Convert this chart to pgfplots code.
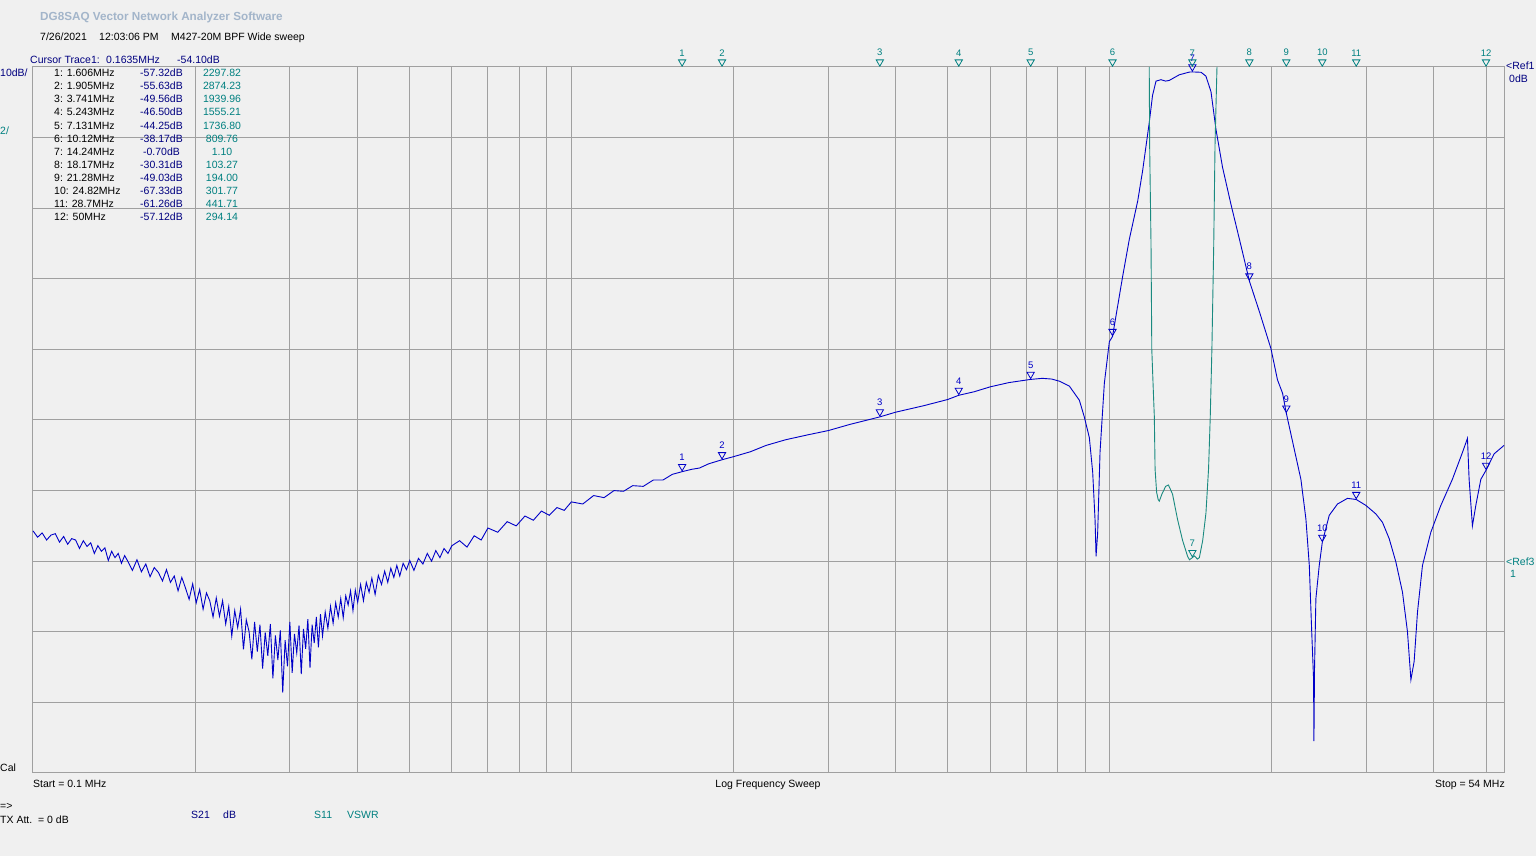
\documentclass[border=0pt]{standalone}
\usepackage{fontspec}
\setmainfont{Liberation Sans}
\usepackage{pgfplots}
\usepackage{pgfplotstable}
\pgfplotsset{compat=1.18}

\definecolor{bg}{HTML}{F0F0F0}
\definecolor{gridc}{HTML}{A0A0A0}
\definecolor{trace}{HTML}{0000C8}
\definecolor{navy}{HTML}{000080}
\definecolor{tealc}{HTML}{008080}
\definecolor{ttrace}{HTML}{1A8A80}
\definecolor{titlec}{HTML}{A3B5CA}

% S21 (dB)
\pgfplotstableread{
f db
0.100 -65.7
0.102 -66.6
0.104 -66.0
0.106 -67.0
0.108 -66.3
0.110 -66.1
0.112 -67.3
0.114 -66.5
0.116 -67.6
0.118 -66.8
0.120 -67.0
0.122 -68.2
0.124 -67.1
0.126 -67.9
0.128 -67.4
0.130 -68.9
0.132 -67.8
0.134 -68.6
0.136 -68.1
0.138 -69.9
0.140 -68.6
0.142 -69.5
0.144 -68.9
0.146 -70.3
0.148 -69.2
0.150 -70.0
0.153 -71.3
0.156 -69.8
0.159 -71.5
0.162 -70.4
0.165 -72.2
0.168 -70.9
0.171 -71.6
0.174 -72.8
0.177 -71.2
0.180 -73.0
0.183 -72.1
0.186 -74.2
0.189 -72.3
0.192 -73.8
0.195 -75.4
0.198 -73.2
0.201 -75.9
0.204 -74.0
0.207 -76.8
0.210 -74.5
0.213 -75.6
0.216 -77.9
0.219 -75.2
0.222 -77.8
0.225 -75.6
0.228 -78.9
0.231 -76.4
0.234 -80.6
0.237 -77.0
0.240 -79.4
0.243 -76.8
0.246 -82.5
0.249 -78.3
0.252 -80.0
0.255 -83.9
0.258 -78.6
0.261 -82.8
0.264 -79.0
0.267 -85.2
0.270 -80.1
0.273 -83.4
0.276 -78.9
0.279 -86.6
0.282 -80.5
0.285 -84.0
0.288 -79.8
0.291 -88.6
0.294 -81.2
0.297 -84.9
0.300 -78.6
0.303 -85.8
0.306 -80.3
0.309 -83.0
0.312 -79.1
0.315 -86.0
0.318 -79.6
0.321 -82.4
0.324 -78.2
0.327 -85.1
0.330 -79.0
0.333 -81.6
0.336 -77.9
0.339 -82.2
0.342 -77.5
0.345 -80.6
0.349 -77.2
0.353 -79.5
0.357 -76.4
0.361 -78.8
0.365 -75.9
0.369 -77.9
0.373 -75.3
0.377 -78.0
0.381 -74.9
0.385 -76.2
0.389 -74.2
0.393 -77.0
0.397 -74.1
0.401 -75.8
0.406 -73.3
0.411 -75.6
0.416 -73.0
0.421 -74.4
0.426 -72.4
0.432 -74.7
0.438 -72.0
0.444 -73.3
0.450 -71.4
0.456 -73.0
0.462 -71.0
0.468 -72.3
0.474 -70.6
0.480 -72.1
0.487 -70.3
0.494 -71.2
0.501 -69.9
0.510 -71.3
0.520 -69.6
0.530 -70.4
0.540 -68.9
0.550 -70.0
0.560 -68.5
0.570 -69.5
0.580 -68.2
0.590 -68.9
0.600 -67.8
0.620 -67.1
0.640 -68.0
0.660 -66.4
0.680 -67.0
0.700 -65.3
0.730 -65.9
0.760 -64.4
0.790 -65.0
0.820 -63.6
0.850 -64.2
0.880 -62.9
0.910 -63.5
0.940 -62.4
0.970 -62.8
1.000 -61.6
1.05 -61.9
1.10 -60.7
1.15 -61.0
1.20 -60.0
1.25 -60.1
1.30 -59.3
1.36 -59.4
1.42 -58.5
1.48 -58.5
1.54 -57.7
1.606 -57.32
1.67 -57.0
1.73 -56.8
1.80 -56.2
1.905 -55.63
2.00 -55.2
2.15 -54.5
2.30 -53.6
2.50 -52.8
2.75 -52.1
3.00 -51.5
3.30 -50.6
3.741 -49.56
4.00 -48.9
4.50 -48.0
5.00 -47.1
5.243 -46.5
5.60 -46.0
6.00 -45.3
6.50 -44.7
7.131 -44.25
7.50 -44.1
7.80 -44.2
8.061 -44.5
8.414 -45.2
8.782 -47.2
8.972 -49.6
9.165 -52.5
9.297 -57.4
9.392 -64.2
9.432 -69.3
9.497 -66.0
9.594 -54.5
9.772 -44.8
9.984 -38.9
10.12 -38.17
10.566 -29.7
10.874 -24.4
11.27 -19.0
11.51 -14.7
11.84 -7.9
12.01 -4.0
12.19 -2.0
12.45 -1.8
12.70 -2.0
12.90 -1.9
13.47 -1.1
14.06 -0.72
14.24 -0.70
14.78 -0.75
15.09 -1.3
15.42 -3.5
15.75 -8.8
16.20 -14.2
16.80 -19.5
17.53 -25.3
18.17 -30.31
18.96 -34.6
19.93 -39.9
20.49 -44.3
20.94 -46.2
21.28 -49.03
22.01 -54.1
22.65 -58.4
23.14 -64.0
23.48 -70.6
23.71 -79.5
23.91 -86.6
23.95 -95.5
24.01 -85.2
24.15 -75.3
24.50 -70.6
24.82 -67.33
25.57 -63.5
26.49 -61.9
27.64 -61.1
28.70 -61.26
29.91 -62.1
31.21 -63.3
32.11 -64.5
33.04 -66.8
34.00 -70.1
34.98 -74.4
35.73 -80.0
36.26 -86.8
36.77 -84.2
37.30 -77.2
38.10 -70.6
39.49 -65.9
41.21 -62.1
43.30 -58.4
45.20 -54.6
46.18 -52.6
46.51 -58.4
47.17 -65.0
47.86 -62.1
48.90 -58.4
50.00 -57.12
51.75 -54.8
54.00 -53.6
}\sparam

% S11 (VSWR), only the part inside the window
\pgfplotstableread{
f vswr
11.84 15
11.86 12.8
11.93 10.0
11.97 7.0
12.05 5.8
12.10 5.1
12.14 3.6
12.22 2.95
12.30 2.75
12.36 2.70
12.50 2.90
12.70 3.12
12.85 3.16
12.95 3.05
13.08 2.90
13.37 2.17
13.66 1.58
13.95 1.14
14.06 1.04
14.24 1.10
14.36 1.15
14.55 1.06
14.67 1.10
14.88 1.58
15.09 2.36
15.26 3.62
15.37 5.08
15.48 7.02
15.60 9.93
15.69 12.84
15.82 15
}\swr

\pgfplotsset{
  mk/.style={only marks, mark=triangle, mark size=4.2pt,
    mark options={solid, line width=0.8pt, yshift=5pt, rotate=180},
    nodes near coords, point meta=explicit symbolic,
    every node near coord/.append style={anchor=south, yshift=5pt, inner sep=0.5pt,
      font=\fontsize{9.5}{10}\selectfont}},
}
\tikzset{txt/.style={anchor=base west, inner sep=0pt, font=\fontsize{10.5}{12}\selectfont}}

\begin{document}
\begin{tikzpicture}[x=1pt,y=1pt]
\path[use as bounding box, fill=bg] (0,0) rectangle (1536,856);

\begin{axis}[at={(33pt,83pt)}, anchor=south west, width=1471pt, height=706pt,
  scale only axis, xmode=log, xmin=0.1, xmax=54, clip=false,
  ymin=-100, ymax=0,
  xtick={0.1,1,10},
  minor xtick={0.2,0.3,0.4,0.5,0.6,0.7,0.8,0.9,2,3,4,5,6,7,8,9,20,30,40,50},
  ytick={-100,-90,...,0}, xticklabels={,,}, yticklabels={,,},
  tick label style={opacity=0},
  tick style={draw=none}, grid=both,
  major grid style={gridc, line width=1pt}, minor grid style={gridc, line width=1pt},
  axis line style={gridc, line width=1pt}]
\addplot[trace, line width=0.9pt] table[x=f, y=db] {\sparam};
\addplot[mk, trace, every node near coord/.append style={text=trace}] coordinates {
  (1.606,-57.32) [1] (1.905,-55.63) [2] (3.741,-49.56) [3] (5.243,-46.50) [4]
  (7.131,-44.25) [5] (10.12,-38.17) [6] (14.24,-0.70) [7] (18.17,-30.31) [8]
  (21.28,-49.03) [9] (24.82,-67.33) [10] (28.7,-61.26) [11] (50,-57.12) [12]};
\addplot[mk, tealc, every node near coord/.append style={text=tealc}] coordinates {
  (1.606,0) [1] (1.905,0) [2] (3.741,0) [3] (5.243,0) [4]
  (7.131,0) [5] (10.12,0) [6] (14.24,0) [7] (18.17,0) [8]
  (21.28,0) [9] (24.82,0) [10] (28.7,0) [11] (50,0) [12]};
\end{axis}

\begin{axis}[at={(33pt,83pt)}, anchor=south west, width=1471pt, height=706pt,
  scale only axis, xmode=log, xmin=0.1, xmax=54, clip=false,
  ymin=-5, ymax=15, hide axis]
\addplot[ttrace, line width=0.9pt] table[x=f, y=vswr] {\swr};
\addplot[mk, tealc, every node near coord/.append style={text=tealc}] coordinates {
  (14.24,1.10) [7]};
\end{axis}

% header
\node[txt, text=titlec, font=\fontsize{11.7}{13}\selectfont\bfseries] at (40,835) {DG8SAQ Vector Network Analyzer Software};
\node[txt] at (40,815) {7/26/2021};
\node[txt] at (99,815) {12:03:06 PM};
\node[txt] at (171,815) {M427-20M BPF Wide sweep};
\node[txt, text=navy] at (30,792) {Cursor Trace1:};
\node[txt, text=navy] at (106,792) {0.1635MHz};
\node[txt, text=navy] at (177,792) {-54.10dB};
\node[txt, text=navy] at (0,779) {10dB/};
\node[txt, text=tealc] at (0,721) {2/};

% marker table
\foreach \lab/\db/\sw [count=\i from 0] in {
  1: 1.606MHz/-57.32dB/2297.82, 2: 1.905MHz/-55.63dB/2874.23,
  3: 3.741MHz/-49.56dB/1939.96, 4: 5.243MHz/-46.50dB/1555.21,
  5: 7.131MHz/-44.25dB/1736.80, 6: 10.12MHz/-38.17dB/809.76,
  7: 14.24MHz/-0.70dB/1.10, 8: 18.17MHz/-30.31dB/103.27,
  9: 21.28MHz/-49.03dB/194.00, 10: 24.82MHz/-67.33dB/301.77,
  11: 28.7MHz/-61.26dB/441.71, 12: 50MHz/-57.12dB/294.14}{
  \node[txt] at (54,779.3-13.08*\i) {\lab};
  \node[txt, anchor=base, text=navy] at (161.5,779.3-13.08*\i) {\db};
  \node[txt, anchor=base, text=tealc] at (222,779.3-13.08*\i) {\sw};
}

% right side references
\node[txt, text=navy] at (1506,786) {<Ref1};
\node[txt, text=navy] at (1509,773) {0dB};
\node[txt, text=tealc] at (1506,290) {<Ref3};
\node[txt, text=tealc] at (1510,278) {1};

% footer
\node[txt] at (0,84) {Cal};
\node[txt] at (33,68) {Start = 0.1 MHz};
\node[txt, anchor=base] at (768,68) {Log Frequency Sweep};
\node[txt, anchor=base east] at (1505,68) {Stop = 54 MHz};
\node[txt] at (0,46) {=>};
\node[txt] at (0,32) {TX Att.\ \ = 0 dB};
\node[txt, text=navy] at (191,37) {S21};
\node[txt, text=navy] at (223,37) {dB};
\node[txt, text=tealc] at (314,37) {S11};
\node[txt, text=tealc] at (347,37) {VSWR};
\end{tikzpicture}
\end{document}
